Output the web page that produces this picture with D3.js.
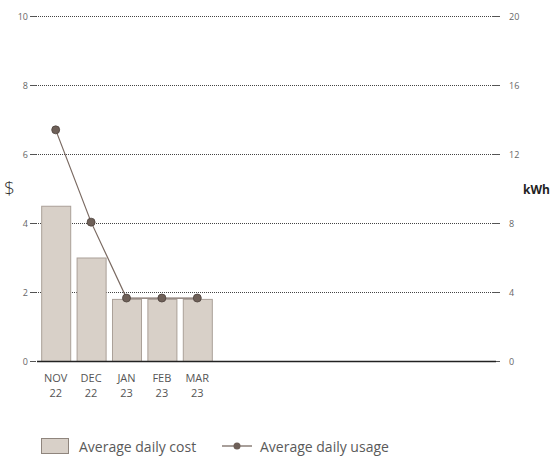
<!DOCTYPE html>
<html><head><meta charset="utf-8">
<script src="https://cdn.jsdelivr.net/npm/d3@7"></script>
<style>body{margin:0;background:#fff}svg{display:block;font-family:"Open Sans","Noto Sans",sans-serif}</style>
</head><body><svg id="c" width="554" height="456"></svg>
<script>
const months = ["NOV","DEC","JAN","FEB","MAR"];
const years = ["22","22","23","23","23"];
const costValues = [4.5, 3.0, 1.8, 1.8, 1.8];
const usageValues = [13.4, 8.05, 3.65, 3.65, 3.65];
const leftTicks = [0,2,4,6,8,10];
const rightTicks = [0,4,8,12,16,20];

const svg = d3.select("#c");
const x0 = 38, yTop = 16, yBot = 361;
const step = 35.4;
const x = d3.scaleBand().domain(months).range([x0, x0 + step*months.length]).paddingInner(0.18).paddingOuter(0.09);
const yL = d3.scaleLinear().domain([0,10]).range([yBot, yTop]);
const yR = d3.scaleLinear().domain([0,20]).range([yBot, yTop]);

// grid
const g = svg.append("g");
leftTicks.forEach(t => {
  const y = Math.round(yL(t)) + 0.5;
  if (t > 0) g.append("line").attr("x1", 36).attr("x2", 492).attr("y1", y).attr("y2", y)
     .attr("stroke", "#444").attr("stroke-width", 1).attr("stroke-dasharray", "1,1");
  g.append("line").attr("x1", 30).attr("x2", 36).attr("y1", y).attr("y2", y).attr("stroke", "#555");
  g.append("line").attr("x1", 492).attr("x2", 500).attr("y1", y).attr("y2", y).attr("stroke", "#555");
  g.append("text").attr("x", 28).attr("y", y).attr("dy", "0.35em").attr("text-anchor", "end")
    .attr("font-size", 9).attr("fill", "#666").text(t);
});
rightTicks.forEach(t => {
  const y = Math.round(yR(t)) + 0.5;
  g.append("text").attr("x", 509).attr("y", y).attr("dy", "0.35em").attr("text-anchor", "start")
    .attr("font-size", 9).attr("fill", "#666").text(t);
});

// bars
svg.append("g").selectAll("rect").data(costValues).join("rect")
  .attr("x", (d,i) => x(months[i]) + 0.5)
  .attr("y", d => yL(d) + 0.5)
  .attr("width", x.bandwidth())
  .attr("height", d => yBot - yL(d))
  .attr("fill", "#d8d0c8").attr("stroke", "#aaa098").attr("stroke-width", 1);

// baseline
svg.append("line").attr("x1", 37).attr("x2", 496).attr("y1", yBot + 0.5).attr("y2", yBot + 0.5)
  .attr("stroke", "#222").attr("stroke-width", 1.5);

// line
const cx = (d,i) => x(months[i]) + x.bandwidth()/2;
svg.append("path").datum(usageValues)
  .attr("d", d3.line().x(cx).y(d => yR(d)))
  .attr("fill", "none").attr("stroke", "#7a6a62").attr("stroke-width", 1.2);
svg.append("g").selectAll("circle").data(usageValues).join("circle")
  .attr("cx", cx).attr("cy", d => yR(d)).attr("r", 4)
  .attr("fill", "#6e6058").attr("stroke", "#4e433d").attr("stroke-width", 0.8);

// x labels
const xl = svg.append("g").attr("font-size", 11).attr("fill", "#555").attr("text-anchor", "middle");
months.forEach((m,i) => {
  const c = cx(null, i);
  xl.append("text").attr("x", c).attr("y", 382).text(m);
  xl.append("text").attr("x", c).attr("y", 397).text(years[i]);
});

// axis titles
svg.append("text").attr("x", 4).attr("y", 195).attr("font-size", 19).attr("font-weight", 300).attr("fill", "#333").text("$");
svg.append("text").attr("x", 523).attr("y", 194).attr("font-size", 12).attr("font-weight", "bold").attr("fill", "#222").text("kWh");

// legend
const lg = svg.append("g");
lg.append("rect").attr("x", 41.5).attr("y", 438.5).attr("width", 27).attr("height", 15)
  .attr("fill", "#d8d0c8").attr("stroke", "#8f857d");
lg.append("text").attr("x", 79).attr("y", 452).attr("font-size", 14).attr("fill", "#5a5a5a").text("Average daily cost");
lg.append("line").attr("x1", 222).attr("x2", 252).attr("y1", 446).attr("y2", 446).attr("stroke", "#6e6058").attr("stroke-width", 1.2);
lg.append("circle").attr("cx", 237).attr("cy", 446).attr("r", 3.5).attr("fill", "#6e6058");
lg.append("text").attr("x", 260).attr("y", 452).attr("font-size", 14).attr("fill", "#5a5a5a").text("Average daily usage");
</script></body></html>
